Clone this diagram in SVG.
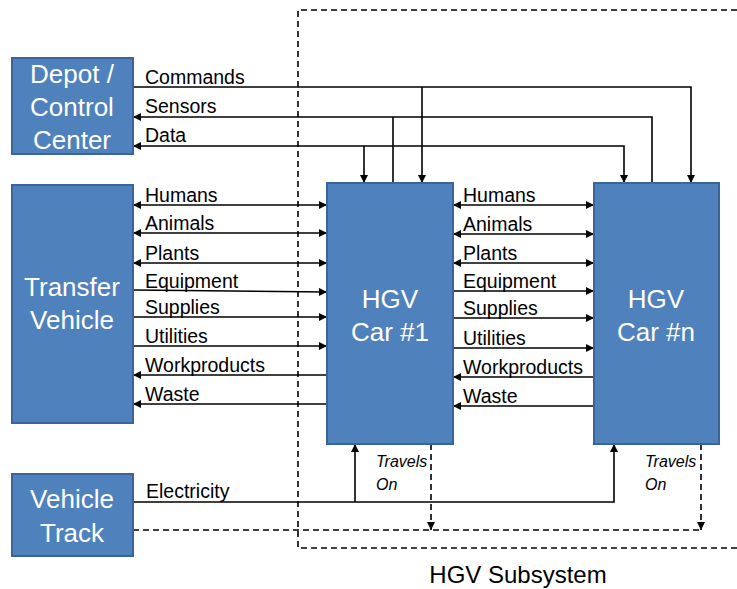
<svg xmlns="http://www.w3.org/2000/svg" width="737" height="589" viewBox="0 0 737 589">
<style>
.box{fill:#4F81BD;stroke:#3A659A;stroke-width:2}
.bt{font-family:"Liberation Sans",Arial,sans-serif;font-size:26px;fill:#ffffff;text-anchor:middle}
.lbl{font-family:"Liberation Sans",Arial,sans-serif;font-size:19.5px;fill:#000}
.it{font-family:"Liberation Sans",Arial,sans-serif;font-size:16px;font-style:italic;fill:#000}
.ln{fill:none;stroke:#000;stroke-width:1.6}
.dash{fill:none;stroke:#000;stroke-width:1.6;stroke-dasharray:6 4}
.ttl{font-family:"Liberation Sans",Arial,sans-serif;font-size:24px;fill:#000;text-anchor:middle}
</style>
<defs>
<marker id="ah" viewBox="0 0 10 10" refX="10" refY="5" markerWidth="9" markerHeight="8" markerUnits="userSpaceOnUse" orient="auto-start-reverse">
<path d="M0,0 L10,5 L0,10 z" fill="#000"/>
</marker>
</defs>
<rect width="737" height="589" fill="#fff"/>

<g id="hgv-subsystem">
<path class="dash" d="M737,10 L298,10 L298,548 L737,548"/>
<text class="ttl" x="518" y="583">HGV Subsystem</text>
</g>

<g id="connectors">
<!-- Commands -->
<path class="ln" d="M133,87 L691,87 L691,183" marker-end="url(#ah)"/>
<path class="ln" d="M422,87 L422,183" marker-end="url(#ah)"/>
<!-- Sensors -->
<path class="ln" d="M652,183 L652,117 L133,117" marker-end="url(#ah)"/>
<path class="ln" d="M393,183 L393,117"/>
<!-- Data -->
<path class="ln" d="M624,183 L624,146 L133,146" marker-start="url(#ah)" marker-end="url(#ah)"/>
<path class="ln" d="M364,146 L364,183" marker-end="url(#ah)"/>
<text class="lbl" x="145" y="84">Commands</text>
<text class="lbl" x="145" y="113">Sensors</text>
<text class="lbl" x="145" y="142">Data</text>

<!-- Transfer Vehicle <-> Car 1 -->
<line class="ln" x1="133" y1="205" x2="327" y2="205" marker-start="url(#ah)" marker-end="url(#ah)"/>
<line class="ln" x1="133" y1="233" x2="327" y2="233" marker-start="url(#ah)" marker-end="url(#ah)"/>
<line class="ln" x1="133" y1="263" x2="327" y2="263" marker-start="url(#ah)" marker-end="url(#ah)"/>
<line class="ln" x1="133" y1="290" x2="327" y2="292" marker-end="url(#ah)"/>
<line class="ln" x1="133" y1="317" x2="327" y2="317" marker-end="url(#ah)"/>
<line class="ln" x1="133" y1="346" x2="327" y2="346" marker-end="url(#ah)"/>
<line class="ln" x1="327" y1="375" x2="133" y2="375" marker-end="url(#ah)"/>
<line class="ln" x1="327" y1="404" x2="133" y2="404" marker-end="url(#ah)"/>
<text class="lbl" x="145" y="202">Humans</text>
<text class="lbl" x="145" y="230">Animals</text>
<text class="lbl" x="145" y="260">Plants</text>
<text class="lbl" x="145" y="288">Equipment</text>
<text class="lbl" x="145" y="314">Supplies</text>
<text class="lbl" x="145" y="343">Utilities</text>
<text class="lbl" x="145" y="372">Workproducts</text>
<text class="lbl" x="145" y="401">Waste</text>

<!-- Car 1 <-> Car n -->
<line class="ln" x1="453" y1="205" x2="594" y2="205" marker-start="url(#ah)" marker-end="url(#ah)"/>
<line class="ln" x1="453" y1="234" x2="594" y2="234" marker-start="url(#ah)" marker-end="url(#ah)"/>
<line class="ln" x1="453" y1="263" x2="594" y2="263" marker-start="url(#ah)" marker-end="url(#ah)"/>
<line class="ln" x1="453" y1="291" x2="594" y2="291" marker-end="url(#ah)"/>
<line class="ln" x1="453" y1="318" x2="594" y2="318" marker-end="url(#ah)"/>
<line class="ln" x1="453" y1="348" x2="594" y2="348" marker-end="url(#ah)"/>
<line class="ln" x1="594" y1="377" x2="453" y2="377" marker-end="url(#ah)"/>
<line class="ln" x1="594" y1="406" x2="453" y2="406" marker-end="url(#ah)"/>
<text class="lbl" x="463" y="202">Humans</text>
<text class="lbl" x="463" y="231">Animals</text>
<text class="lbl" x="463" y="260">Plants</text>
<text class="lbl" x="463" y="288">Equipment</text>
<text class="lbl" x="463" y="315">Supplies</text>
<text class="lbl" x="463" y="345">Utilities</text>
<text class="lbl" x="463" y="374">Workproducts</text>
<text class="lbl" x="463" y="403">Waste</text>

<!-- Electricity -->
<path class="ln" d="M133,502 L614,502 L614,444" marker-end="url(#ah)"/>
<path class="ln" d="M355,502 L355,444" marker-end="url(#ah)"/>
<text class="lbl" x="146" y="498">Electricity</text>

<!-- Travels On -->
<path class="dash" d="M133,530 L701,530"/>
<path class="dash" d="M431,444 L431,530" marker-end="url(#ah)"/>
<path class="dash" d="M701,444 L701,530" marker-end="url(#ah)"/>
<text class="it" x="376" y="467">Travels</text>
<text class="it" x="376" y="490">On</text>
<text class="it" x="645" y="467">Travels</text>
<text class="it" x="645" y="490">On</text>
</g>

<g id="depot">
<rect class="box" x="12" y="58" width="121" height="96"/>
<text class="bt" x="72" y="83">Depot /</text>
<text class="bt" x="72" y="116">Control</text>
<text class="bt" x="72" y="149">Center</text>
</g>

<g id="transfer-vehicle">
<rect class="box" x="12" y="185" width="121" height="238"/>
<text class="bt" x="72" y="296">Transfer</text>
<text class="bt" x="72" y="329">Vehicle</text>
</g>

<g id="hgv-car-1">
<rect class="box" x="327" y="183" width="126" height="261"/>
<text class="bt" x="390" y="308">HGV</text>
<text class="bt" x="390" y="341">Car #1</text>
</g>

<g id="hgv-car-n">
<rect class="box" x="594" y="183" width="125" height="261"/>
<text class="bt" x="656" y="308">HGV</text>
<text class="bt" x="656" y="341">Car #n</text>
</g>

<g id="vehicle-track">
<rect class="box" x="12" y="474" width="121" height="82"/>
<text class="bt" x="72" y="508">Vehicle</text>
<text class="bt" x="72" y="542">Track</text>
</g>
</svg>
